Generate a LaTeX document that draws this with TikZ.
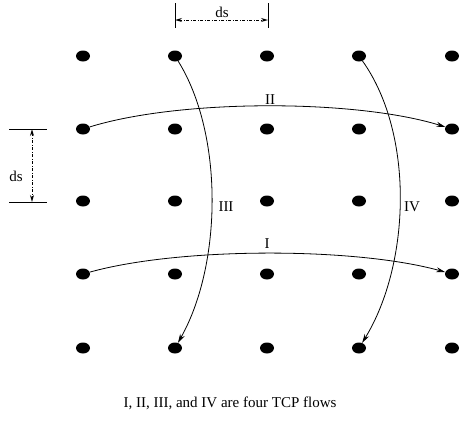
\documentclass[tikz,border=0pt]{standalone}
\usepackage{fontspec}
\setmainfont{Liberation Serif}
\usetikzlibrary{arrows.meta,shapes.geometric}
\begin{document}
\begin{tikzpicture}[x=1pt,y=-1pt,
  dot/.style={ellipse,fill=black,minimum width=14pt,minimum height=11pt,inner sep=0pt},
  flow/.style={line width=0.8pt,-{Stealth[length=9pt,width=5pt]}},
  lbl/.style={font=\fontsize{15}{18}\selectfont,inner sep=0pt,anchor=base},
  tick/.style={line width=0.8pt},
  dim/.style={line width=0.7pt,dash pattern=on 3pt off 1.5pt on 1pt off 1.5pt,{Stealth[open,length=7pt,width=4pt]}-{Stealth[open,length=7pt,width=4pt]}}
]
\useasboundingbox (0,0) rectangle (461,424);
\foreach \i/\x in {1/83,2/175,3/267,4/359,5/452}{
  \foreach \j/\y in {1/56,2/129,3/201,4/274,5/348}{
    \node[dot] (d\i\j) at (\x,\y) {};
  }
}
% flows
\draw[flow] (d12) .. controls (180,99) and (355,99) .. (d52);
\draw[flow] (d14) .. controls (180,247) and (355,247) .. (d54);
\draw[flow] (d21) .. controls (224,135) and (222,265) .. (d25);
\draw[flow] (d41) .. controls (415,135) and (410,265) .. (d45);
\node[lbl] (lII) at (270,104) {II};
\node[lbl] (lI) at (267,248) {I};
\node[lbl] (lIII) at (226,211) {III};
\node[lbl] (lIV) at (412,211) {IV};
% top ds
\coordinate (t1a) at (175,3); \coordinate (t1b) at (175,28);
\coordinate (t2a) at (268,3); \coordinate (t2b) at (268,28);
\draw[tick] (t1a) -- (t1b);
\draw[tick] (t2a) -- (t2b);
\coordinate (h1) at (175,20); \coordinate (h2) at (268,20);
\draw[dim] (h1) -- (h2);
\node[lbl] (dsT) at (222,17) {ds};
% left ds
\coordinate (l1a) at (9,129); \coordinate (l1b) at (47,129);
\coordinate (l2a) at (9,202); \coordinate (l2b) at (47,202);
\draw[tick] (l1a) -- (l1b);
\draw[tick] (l2a) -- (l2b);
\coordinate (v1) at (32,129); \coordinate (v2) at (32,202);
\draw[dim] (v1) -- (v2);
\node[lbl] (dsL) at (16,181) {ds};
% caption
\node[lbl] (cap) at (230,407) {I, II, III, and IV are four TCP flows};
\end{tikzpicture}
\end{document}
